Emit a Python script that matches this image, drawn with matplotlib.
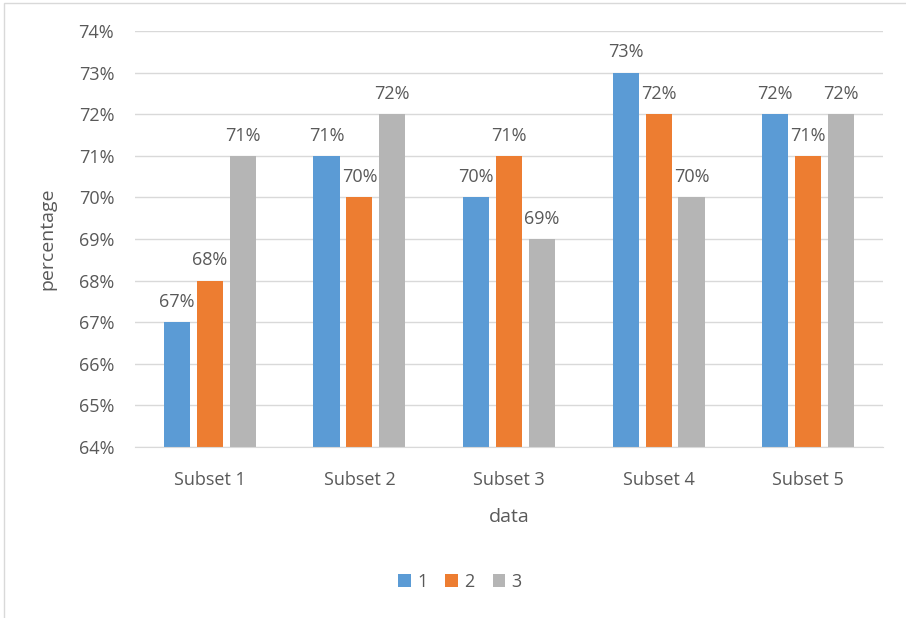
import matplotlib
matplotlib.use('Agg')
import matplotlib.pyplot as plt
import matplotlib.patches as patches
import numpy as np

categories = ['Subset 1', 'Subset 2', 'Subset 3', 'Subset 4', 'Subset 5']
series_names = ['1', '2', '3']
s1 = [67, 71, 70, 73, 72]
s2 = [68, 70, 71, 72, 71]
s3 = [71, 72, 69, 70, 72]
colors = ['#5B9BD5', '#ED7D31', '#B5B5B5']

plt.rcParams['font.family'] = ['Open Sans', 'DejaVu Sans']
txt = '#595959'

fig = plt.figure(figsize=(9.06, 6.18), dpi=100)
ax = fig.add_axes([135 / 906, 1 - 447 / 618, (883 - 135) / 906, (447 - 31) / 618])

# chart border
fig.patches.append(patches.Rectangle((4 / 906, -0.01), 1.0, 1 - 3 / 618 + 0.01,
                                     transform=fig.transFigure, fill=False,
                                     edgecolor='#d9d9d9', linewidth=1))

x = np.arange(len(categories))
w = 0.174
step = 0.22
for i, (vals, c, name) in enumerate(zip([s1, s2, s3], colors, series_names)):
    bars = ax.bar(x + (i - 1) * step, vals, w, bottom=0, color=c, label=name, zorder=3)
    for b, v in zip(bars, vals):
        ax.text(b.get_x() + b.get_width() / 2, v + 0.27, f'{v}%', ha='center', va='bottom',
                fontsize=13, color=txt)

ax.set_ylim(64, 74)
ax.set_xlim(-0.5, 4.5)
ax.set_yticks(range(64, 75))
ax.set_yticklabels([f'{t}%' for t in range(64, 75)])
ax.set_xticks(x)
ax.set_xticklabels(categories)
ax.tick_params(axis='both', length=0, labelsize=13, colors=txt)
ax.tick_params(axis='y', pad=15)
ax.tick_params(axis='x', pad=17)
ax.grid(axis='y', color='#d9d9d9', linewidth=1, zorder=0)
for s in ['top', 'right', 'left']:
    ax.spines[s].set_visible(False)
ax.spines['bottom'].set_color('#d9d9d9')
ax.spines['bottom'].set_zorder(4)

ax.set_xlabel('data', fontsize=14, color=txt, labelpad=14)
ax.set_ylabel('percentage', fontsize=14, color=txt, labelpad=16)

fig.legend(loc='center', bbox_to_anchor=(460 / 906, 1 - 582 / 618), ncol=3, frameon=False,
           fontsize=13, labelcolor=txt, handlelength=0.7, handleheight=0.7,
           handletextpad=0.35, columnspacing=1.0)

fig.savefig('out.png', dpi=100)
